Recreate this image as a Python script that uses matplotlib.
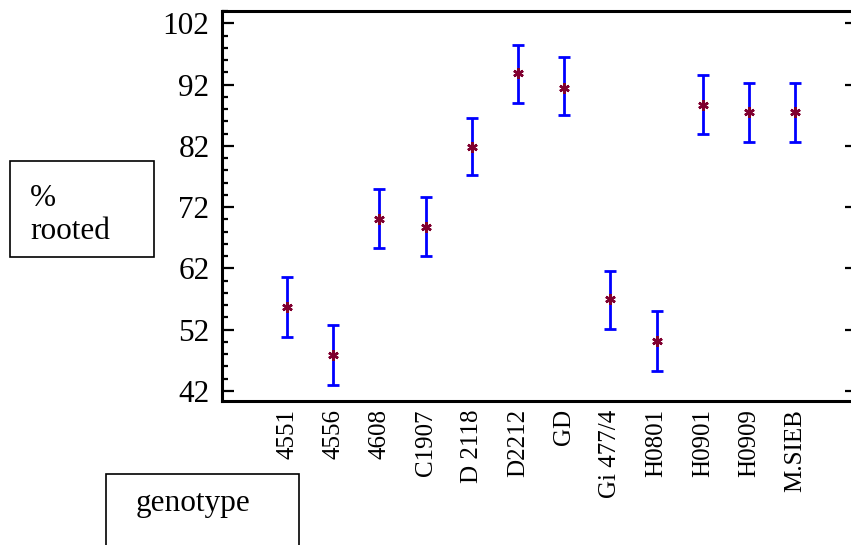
import matplotlib
matplotlib.use("Agg")
import matplotlib.pyplot as plt
from matplotlib.patches import Rectangle
from matplotlib.ticker import MultipleLocator, FixedLocator

plt.rcParams['font.family'] = ['Liberation Serif', 'DejaVu Serif']

genotypes = ["4551", "4556", "4608", "C1907", "D 2118", "D2212", "GD",
             "Gi 477/4", "H0801", "H0901", "H0909", "M.SIEB"]
means = [55.7, 47.8, 70.0, 68.7, 81.8, 93.9, 91.5, 57.0, 50.1, 88.6, 87.6, 87.6]
upper = [60.6, 52.8, 74.9, 73.6, 86.6, 98.5, 96.5, 61.6, 55.0, 93.5, 92.3, 92.3]
lower = [50.8, 42.9, 65.4, 64.1, 77.2, 89.0, 87.0, 52.1, 45.2, 84.0, 82.7, 82.7]
yticks = [42, 52, 62, 72, 82, 92, 102]

W, H = 851, 545
fig = plt.figure(figsize=(W / 100, H / 100), dpi=100)
ax = fig.add_axes([222 / W, 1 - 401 / H, (851 - 222) / W, (401 - 11) / H])

pos = list(range(1, len(genotypes) + 1))
yerr = [[m - l for m, l in zip(means, lower)], [u - m for m, u in zip(means, upper)]]
ax.errorbar(pos, means, yerr=yerr, fmt='none', ecolor='#0000ff', elinewidth=2,
            capsize=4.5, capthick=2, zorder=2)
ax.plot(pos, means, linestyle='none', marker=(6, 2, 0), markersize=7.5,
        markeredgewidth=1.8, color='#800030', zorder=3)

ax.set_xlim(-0.408, 13.21)
ax.set_ylim(40.37, 104.0)
ax.set_xticks(pos)
ax.set_xticklabels(genotypes, rotation=90, fontsize=18)
ax.yaxis.set_major_locator(FixedLocator(yticks))
ax.yaxis.set_minor_locator(MultipleLocator(2))
ax.set_yticklabels([str(t) for t in yticks], fontsize=22.5)

ax.tick_params(axis='x', length=0, pad=6)
ax.tick_params(axis='y', which='major', direction='in', length=8.6, width=1.6,
               pad=9, right=True)
ax.tick_params(axis='y', which='minor', direction='in', length=4.6, width=1.6,
               right=False)
for t in ax.yaxis.get_major_ticks():
    t.tick2line.set_markersize(4.3)
ax.spines['right'].set_visible(False)
for s in ['left', 'top', 'bottom']:
    ax.spines[s].set_linewidth(2.2)

# label boxes
fig.patches.append(Rectangle((10 / W, 1 - 257 / H), 144 / W, 96 / H,
                             transform=fig.transFigure, fill=False,
                             edgecolor='black', linewidth=1.2))
fig.text(30 / W, 1 - 215 / H, "%\nrooted", fontsize=22.5, ha='left', va='center',
         linespacing=1.15)
fig.patches.append(Rectangle((106 / W, 1 - 560 / H), 193 / W, 86 / H,
                             transform=fig.transFigure, fill=False,
                             edgecolor='black', linewidth=1.2))
fig.text(193 / W, 1 - 504 / H, "genotype", fontsize=22.5, ha='center', va='center')

fig.savefig("out.png", dpi=100)
